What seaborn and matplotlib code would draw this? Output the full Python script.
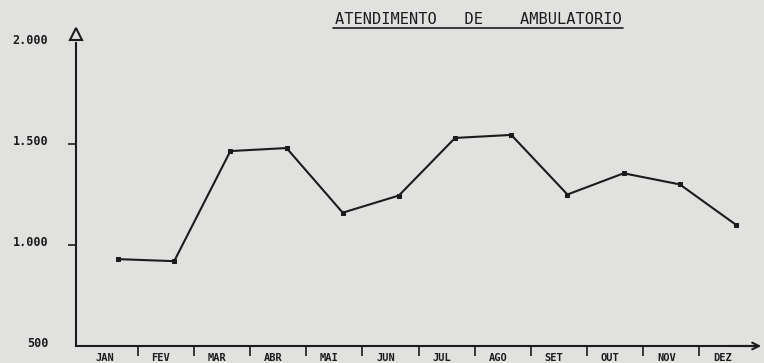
import matplotlib
matplotlib.use("Agg")
import matplotlib.pyplot as plt
from matplotlib.lines import Line2D
from matplotlib.transforms import ScaledTranslation
import numpy as np
import pandas as pd
import seaborn as sns

# Monthly outpatient attendance
meses = ["JAN", "FEV", "MAR", "ABR", "MAI", "JUN", "JUL", "AGO", "SET", "OUT", "NOV", "DEZ"]
atendimentos = [930, 920, 1465, 1480, 1160, 1245, 1530, 1545, 1250, 1355, 1300, 1100]
y_ticks = [500, 1000, 1500, 2000]
y_labels = ["500", "1.000", "1.500", "2.000"]
titulo = "ATENDIMENTO   DE    AMBULATORIO"

paper = "#e1e2df"
ink = "#1c1c1c"
mono = "DejaVu Sans Mono"

sns.set_style("ticks", {"axes.facecolor": paper, "figure.facecolor": paper,
                        "axes.edgecolor": ink, "xtick.color": ink, "ytick.color": ink,
                        "text.color": ink})
plt.rcParams["font.family"] = [mono, "DejaVu Sans"]

df = pd.DataFrame({"pos": np.arange(len(meses)), "mes": meses, "valor": atendimentos})

W, H = 764, 363
fig = plt.figure(figsize=(W / 100, H / 100), dpi=100)
ax = fig.add_axes([76 / W, (H - 346) / H, 679 / W, 303 / H])

sns.lineplot(data=df, x="pos", y="valor", ax=ax, color=ink, linewidth=1.5,
             marker="s", markersize=3.4, markeredgecolor=ink, markerfacecolor=ink)

step = 56.18
ax.set_xlim(-(118 - 76) / step, (755 - 118) / step)
ax.set_ylim(500, 2000)
ax.set_xlabel("")
ax.set_ylabel("")

# month names sit between the boundary marks
ax.set_xticks(df["pos"] - 0.24)
ax.set_xticklabels(meses, fontsize=7.5, family=mono, fontweight="bold")
ax.tick_params(axis="x", which="major", length=0, pad=5)
ax.set_xticks(df["pos"][:-1] + 0.35, minor=True)
ax.tick_params(axis="x", which="minor", length=7, width=1.2, direction="out")

ax.set_yticks(y_ticks)
ax.set_yticklabels(y_labels, fontsize=8.5, family=mono, fontweight="bold")
ax.tick_params(axis="y", length=6, width=1.2, pad=14)
yt = ax.yaxis.get_major_ticks()
yt[0].tick1line.set_visible(False)
yt[-1].tick1line.set_visible(False)
for lab in ax.get_yticklabels():
    lab.set_transform(lab.get_transform() + ScaledTranslation(0, 3 / 72, fig.dpi_scale_trans))

sns.despine(ax=ax)
for side in ("left", "bottom"):
    ax.spines[side].set_linewidth(1.5)
    ax.spines[side].set_color(ink)

# open triangle on top of the vertical axis
ax.plot([0], [1.03], transform=ax.transAxes, marker="^", markersize=8,
        markerfacecolor="none", markeredgecolor=ink, markeredgewidth=1.5, clip_on=False)
# arrow at the end of the horizontal axis
ax.annotate("", xy=(1 + 9 / 679, 0), xytext=(1 - 30 / 679, 0),
            xycoords="axes fraction", annotation_clip=False,
            arrowprops=dict(arrowstyle="->", color=ink, lw=1.5, mutation_scale=12))

fig.text(478 / W, 1 - 20 / H, titulo, ha="center", va="center",
         fontsize=11.1, family=mono, color=ink)
fig.add_artist(Line2D([333 / W, 623 / W], [1 - 28 / H] * 2, color=ink, lw=1.2))

fig.savefig("out.png", dpi=100, facecolor=paper)
